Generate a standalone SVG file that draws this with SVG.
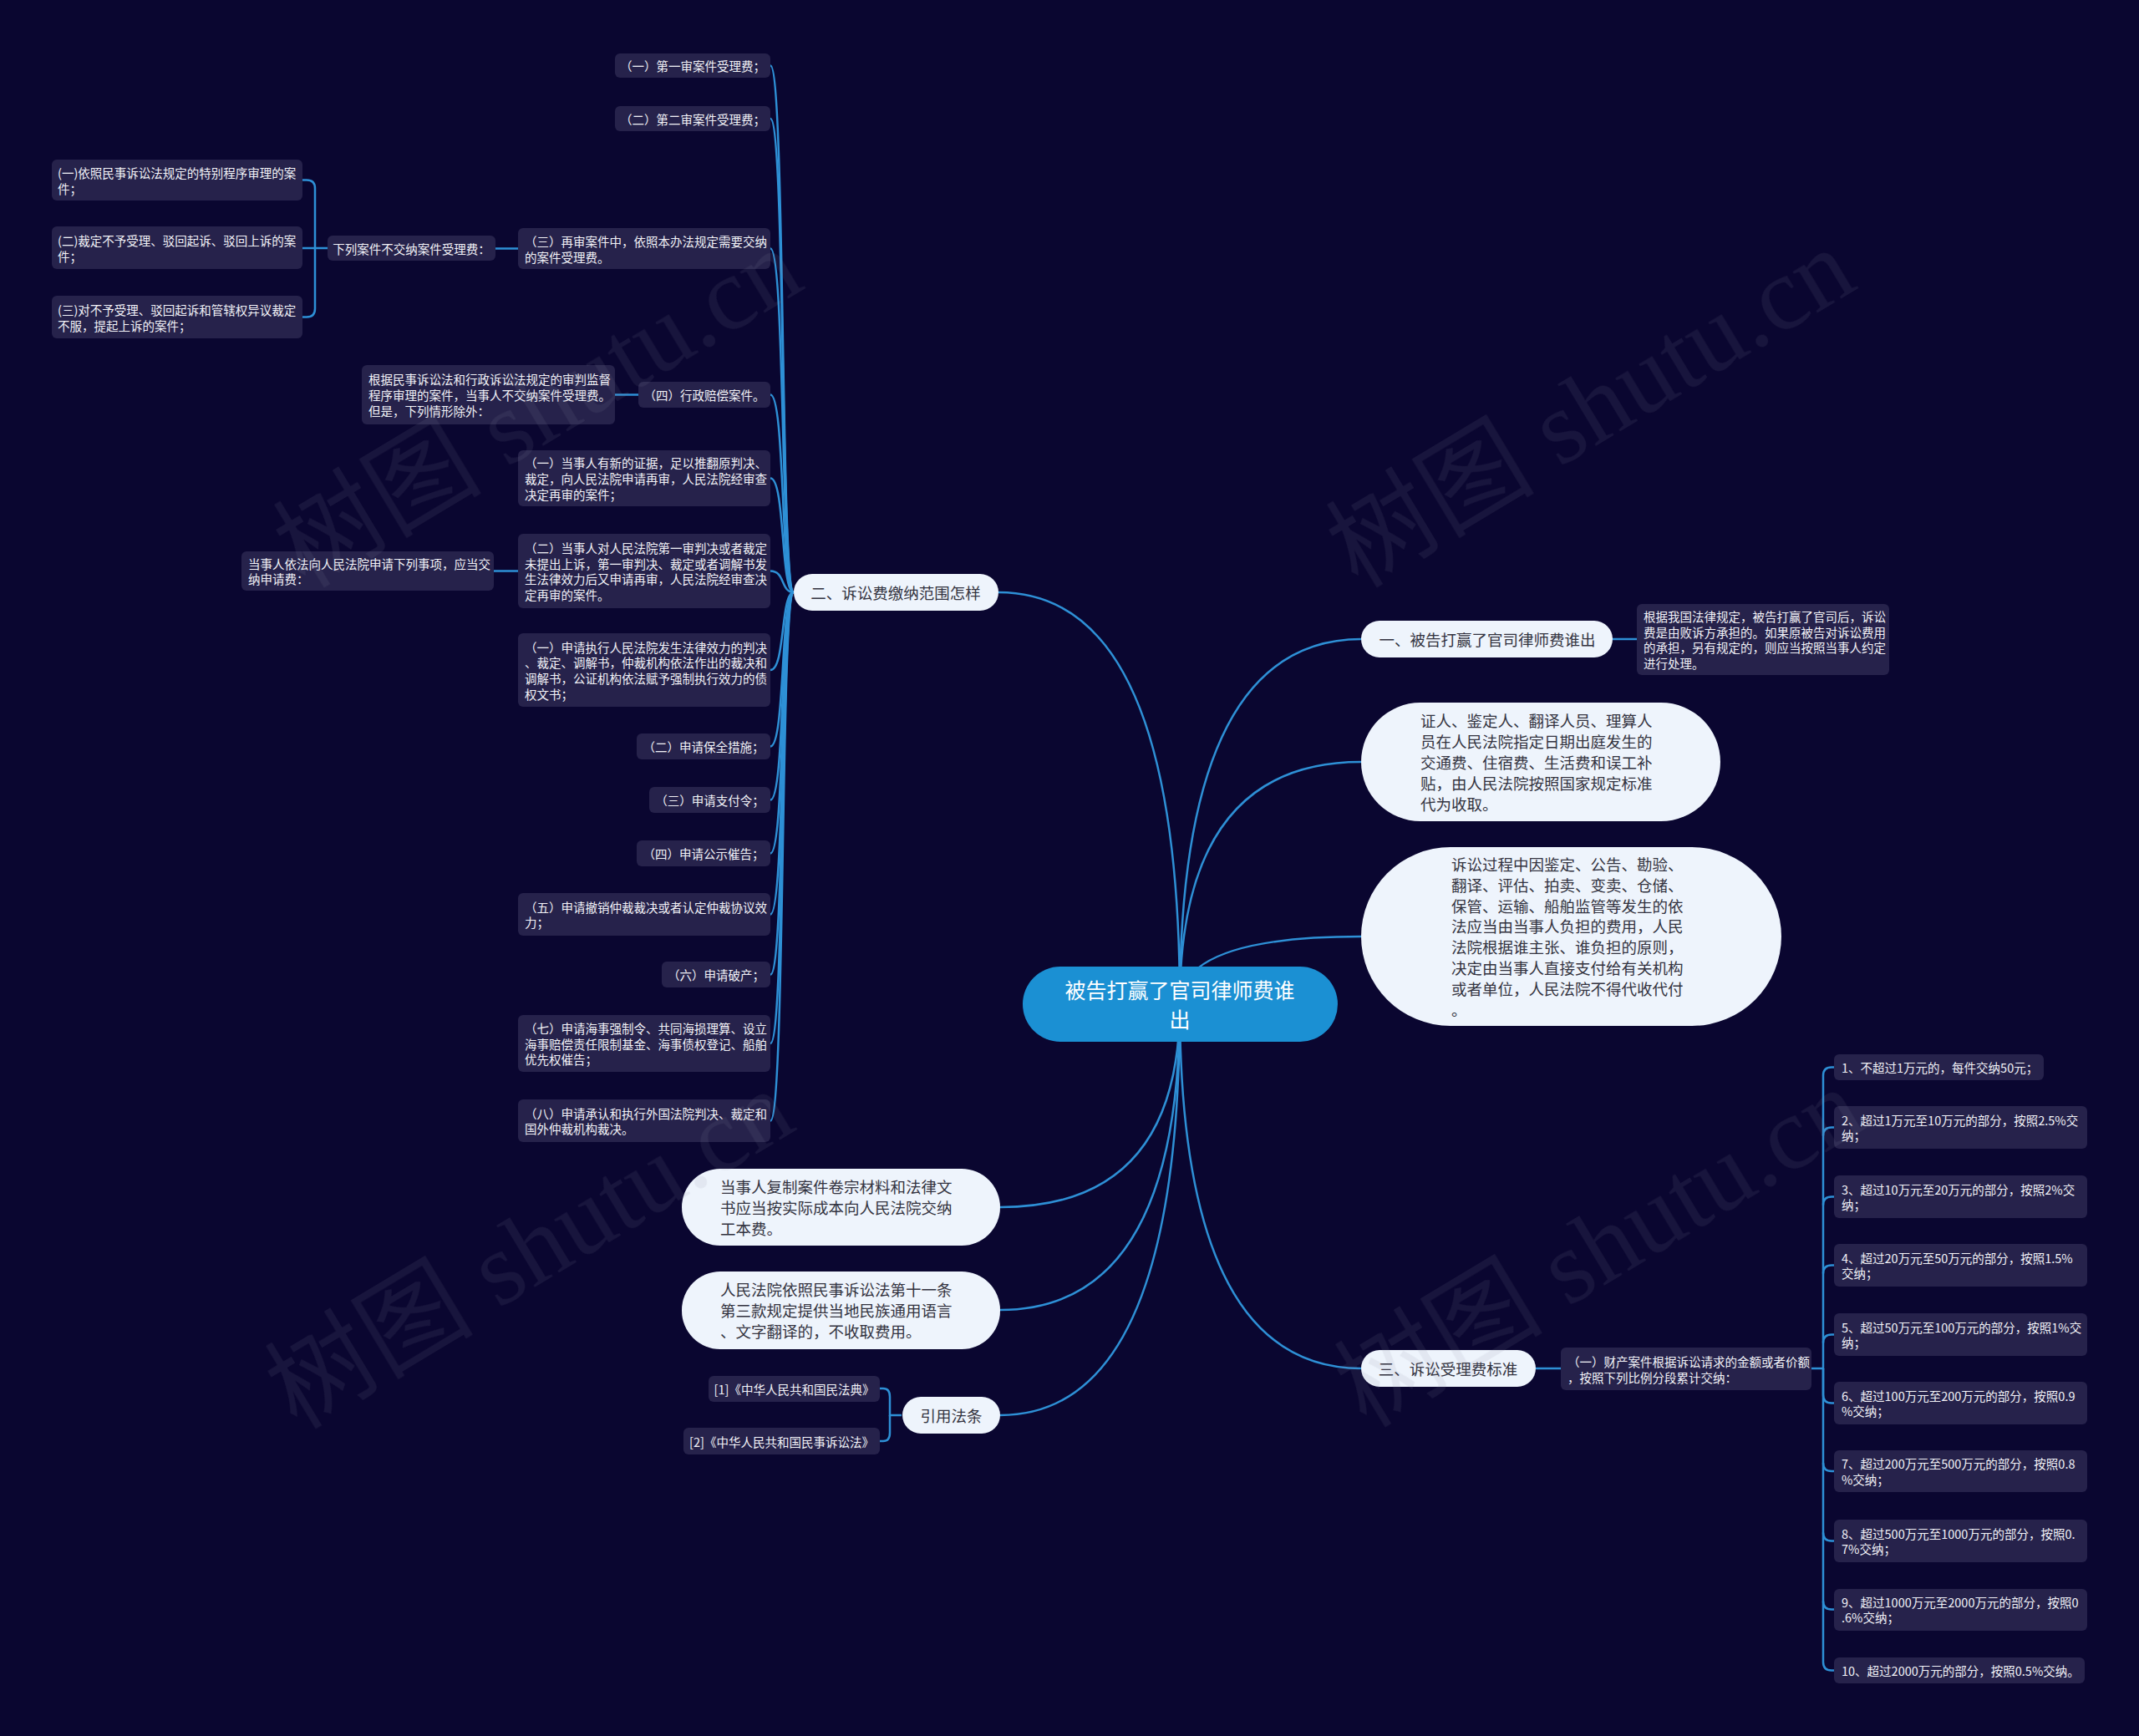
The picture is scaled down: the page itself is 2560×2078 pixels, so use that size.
<svg xmlns="http://www.w3.org/2000/svg" width="2560" height="2078" viewBox="0 0 2560 2078">
<style>
.dk{fill:#26224b}
.dt{fill:#f2f2f7;font-family:"Noto Sans CJK SC","Noto Sans",sans-serif;font-size:14.5px;dominant-baseline:central}
.dm{text-anchor:middle}
.wn{fill:#eef4fc}
.wt{fill:#333340;font-family:"Noto Sans CJK SC","Noto Sans",sans-serif;font-size:18.5px;dominant-baseline:central}
.ct{fill:#ffffff;font-family:"Noto Sans CJK SC","Noto Sans",sans-serif;font-size:25px;dominant-baseline:central;text-anchor:middle}
.ln{fill:none;stroke:#2e90d6;stroke-width:2.5}
.wm{fill:#8a8aa0;opacity:0.12;font-family:"Liberation Serif","Noto Sans CJK SC",serif;font-size:125px}
</style>
<rect x="0" y="0" width="2560" height="2078" fill="#0a0630"/>

<g id="connectors" class="ln">
<path d="M1412,1202 Q1412,709 1195,709"/>
<path d="M1412,1202 Q1412,765 1629,765"/>
<path d="M1412,1202 Q1412,912 1629,912"/>
<path d="M1412,1202 Q1412,1121 1629,1121"/>
<path d="M1412,1202 Q1412,1638 1629,1638"/>
<path d="M1412,1202 Q1412,1445 1197,1445"/>
<path d="M1412,1202 Q1412,1568 1197,1568"/>
<path d="M1412,1202 Q1412,1694 1197,1694"/>
<path d="M950,709 C934,709 940,78.5 922,78.5"/>
<path d="M950,709 C934,709 940,142 922,142"/>
<path d="M950,709 C934,709 940,297.5 922,297.5"/>
<path d="M950,709 C934,709 940,472.5 922,472.5"/>
<path d="M950,709 C934,709 940,572.5 922,572.5"/>
<path d="M950,709 C934,709 940,683.5 922,683.5"/>
<path d="M950,709 C934,709 940,802 922,802"/>
<path d="M950,709 C934,709 940,893.5 922,893.5"/>
<path d="M950,709 C934,709 940,957.5 922,957.5"/>
<path d="M950,709 C934,709 940,1021.5 922,1021.5"/>
<path d="M950,709 C934,709 940,1094.5 922,1094.5"/>
<path d="M950,709 C934,709 940,1166.5 922,1166.5"/>
<path d="M950,709 C934,709 940,1249 922,1249"/>
<path d="M950,709 C934,709 940,1341.5 922,1341.5"/>
<path d="M620,297.5 H593"/>
<path d="M764,472.5 H736"/>
<path d="M620,683.5 H591"/>
<path d="M1930,765 H1959"/>
<path d="M1838,1638 H1868"/>
<path d="M392,297 H377 V225.5 Q377,215.5 367,215.5 H362"/>
<path d="M377,297 H362"/>
<path d="M377,297 V369.5 Q377,379.5 367,379.5 H362"/>
<path d="M1079,1694 H1065 V1672 Q1065,1662 1057,1662 H1053"/>
<path d="M1065,1694 V1715 Q1065,1725 1057,1725 H1053"/>
<path d="M2168,1638 H2182 V1287.5 Q2182,1277.5 2192,1277.5 H2195"/>
<path d="M2182,1359.5 Q2182,1349.5 2192,1349.5 H2195"/>
<path d="M2182,1442.5 Q2182,1432.5 2192,1432.5 H2195"/>
<path d="M2182,1524.5 Q2182,1514.5 2192,1514.5 H2195"/>
<path d="M2182,1607.5 Q2182,1597.5 2192,1597.5 H2195"/>
<path d="M2182,1638 V1669.5 Q2182,1679.5 2192,1679.5 H2195"/>
<path d="M2182,1751 Q2182,1761 2192,1761 H2195"/>
<path d="M2182,1834.5 Q2182,1844.5 2192,1844.5 H2195"/>
<path d="M2182,1916.5 Q2182,1926.5 2192,1926.5 H2195"/>
<path d="M2182,1638 V1989.5 Q2182,1999.5 2192,1999.5 H2195"/>
</g>

<g id="center">
<rect x="1224" y="1157" width="377" height="90" rx="45" fill="#1b90d3"/>
<text class="ct" x="1412" y="1184">被告打赢了官司律师费谁</text>
<text class="ct" x="1412" y="1219">出</text>
</g>

<g id="t1">
<rect class="wn" x="1629" y="743" width="301" height="44" rx="22"/>
<text class="wt" x="1780" y="765" text-anchor="middle">一、被告打赢了官司律师费谁出</text>
</g>
<g id="t1c">
<rect class="dk" x="1959" y="723" width="302" height="85" rx="6"/>
<text class="dt" x="1967" y="737.5">根据我国法律规定，被告打赢了官司后，诉讼</text>
<text class="dt" x="1967" y="756.2">费是由败诉方承担的。如果原被告对诉讼费用</text>
<text class="dt" x="1967" y="774.9">的承担，另有规定的，则应当按照当事人约定</text>
<text class="dt" x="1967" y="793.6">进行处理。</text>
</g>
<g id="t2">
<rect class="wn" x="1629" y="841" width="430" height="142" rx="71"/>
<text class="wt" x="1700" y="862">证人、鉴定人、翻译人员、理算人</text>
<text class="wt" x="1700" y="887">员在人民法院指定日期出庭发生的</text>
<text class="wt" x="1700" y="912">交通费、住宿费、生活费和误工补</text>
<text class="wt" x="1700" y="937">贴，由人民法院按照国家规定标准</text>
<text class="wt" x="1700" y="962">代为收取。</text>
</g>
<g id="t3">
<rect class="wn" x="1629" y="1014" width="503" height="214" rx="107"/>
<text class="wt" x="1737" y="1034">诉讼过程中因鉴定、公告、勘验、</text>
<text class="wt" x="1737" y="1059">翻译、评估、拍卖、变卖、仓储、</text>
<text class="wt" x="1737" y="1084">保管、运输、船舶监管等发生的依</text>
<text class="wt" x="1737" y="1108">法应当由当事人负担的费用，人民</text>
<text class="wt" x="1737" y="1133">法院根据谁主张、谁负担的原则，</text>
<text class="wt" x="1737" y="1158">决定由当事人直接支付给有关机构</text>
<text class="wt" x="1737" y="1183">或者单位，人民法院不得代收代付</text>
<text class="wt" x="1737" y="1208">。</text>
</g>
<g id="t4">
<rect class="wn" x="1629" y="1616" width="209" height="44" rx="22"/>
<text class="wt" x="1733" y="1638" text-anchor="middle">三、诉讼受理费标准</text>
</g>
<g id="t4c">
<rect class="dk" x="1868" y="1613" width="300" height="51" rx="6"/>
<text class="dt" x="1876" y="1629">（一）财产案件根据诉讼请求的金额或者价额</text>
<text class="dt" x="1876" y="1648">，按照下列比例分段累计交纳：</text>
</g>
<g id="f1"><rect class="dk" x="2195" y="1262" width="251" height="31" rx="6"/>
<text class="dt" x="2204" y="1277.5">1、不超过1万元的，每件交纳50元；</text></g>
<g id="f2"><rect class="dk" x="2195" y="1324" width="303" height="51" rx="6"/>
<text class="dt" x="2204" y="1340.2">2、超过1万元至10万元的部分，按照2.5%交</text>
<text class="dt" x="2204" y="1358.8">纳；</text></g>
<g id="f3"><rect class="dk" x="2195" y="1407" width="303" height="51" rx="6"/>
<text class="dt" x="2204" y="1423.2">3、超过10万元至20万元的部分，按照2%交</text>
<text class="dt" x="2204" y="1441.8">纳；</text></g>
<g id="f4"><rect class="dk" x="2195" y="1489" width="303" height="51" rx="6"/>
<text class="dt" x="2204" y="1505.2">4、超过20万元至50万元的部分，按照1.5%</text>
<text class="dt" x="2204" y="1523.8">交纳；</text></g>
<g id="f5"><rect class="dk" x="2195" y="1572" width="303" height="51" rx="6"/>
<text class="dt" x="2204" y="1588.2">5、超过50万元至100万元的部分，按照1%交</text>
<text class="dt" x="2204" y="1606.8">纳；</text></g>
<g id="f6"><rect class="dk" x="2195" y="1654" width="303" height="51" rx="6"/>
<text class="dt" x="2204" y="1670.2">6、超过100万元至200万元的部分，按照0.9</text>
<text class="dt" x="2204" y="1688.8">%交纳；</text></g>
<g id="f7"><rect class="dk" x="2195" y="1736" width="303" height="50" rx="6"/>
<text class="dt" x="2204" y="1751.7">7、超过200万元至500万元的部分，按照0.8</text>
<text class="dt" x="2204" y="1770.3">%交纳；</text></g>
<g id="f8"><rect class="dk" x="2195" y="1819" width="303" height="51" rx="6"/>
<text class="dt" x="2204" y="1835.2">8、超过500万元至1000万元的部分，按照0.</text>
<text class="dt" x="2204" y="1853.8">7%交纳；</text></g>
<g id="f9"><rect class="dk" x="2195" y="1902" width="303" height="50" rx="6"/>
<text class="dt" x="2204" y="1917.2">9、超过1000万元至2000万元的部分，按照0</text>
<text class="dt" x="2204" y="1935.8">.6%交纳；</text></g>
<g id="f10"><rect class="dk" x="2195" y="1984" width="300" height="31" rx="6"/>
<text class="dt" x="2204" y="1999.5">10、超过2000万元的部分，按照0.5%交纳。</text></g>

<g id="t5">
<rect class="wn" x="950" y="687" width="245" height="44" rx="22"/>
<text class="wt" x="1072" y="709" text-anchor="middle">二、诉讼费缴纳范围怎样</text>
</g>
<g id="a"><rect class="dk" x="736" y="64" width="186" height="29" rx="6"/>
<text class="dt dm" x="829" y="78.5">（一）第一审案件受理费；</text></g>
<g id="b"><rect class="dk" x="736" y="127" width="186" height="30" rx="6"/>
<text class="dt dm" x="829" y="142">（二）第二审案件受理费；</text></g>
<g id="c"><rect class="dk" x="620" y="273" width="302" height="49" rx="6"/>
<text class="dt" x="628" y="288.5">（三）再审案件中，依照本办法规定需要交纳</text>
<text class="dt" x="628" y="307">的案件受理费。</text></g>
<g id="c1"><rect class="dk" x="392" y="282" width="201" height="30" rx="6"/>
<text class="dt dm" x="492.5" y="297">下列案件不交纳案件受理费：</text></g>
<g id="c1a"><rect class="dk" x="62" y="191" width="300" height="49" rx="6"/>
<text class="dt" x="69" y="206.5">(一)依照民事诉讼法规定的特别程序审理的案</text>
<text class="dt" x="69" y="225">件；</text></g>
<g id="c1b"><rect class="dk" x="62" y="271" width="300" height="51" rx="6"/>
<text class="dt" x="69" y="287.5">(二)裁定不予受理、驳回起诉、驳回上诉的案</text>
<text class="dt" x="69" y="306">件；</text></g>
<g id="c1c"><rect class="dk" x="62" y="354" width="300" height="51" rx="6"/>
<text class="dt" x="69" y="370.5">(三)对不予受理、驳回起诉和管辖权异议裁定</text>
<text class="dt" x="69" y="389">不服，提起上诉的案件；</text></g>
<g id="d"><rect class="dk" x="764" y="457" width="158" height="31" rx="6"/>
<text class="dt dm" x="843" y="472.5">（四）行政赔偿案件。</text></g>
<g id="d1"><rect class="dk" x="433" y="437" width="303" height="71" rx="6"/>
<text class="dt" x="441" y="453.8">根据民事诉讼法和行政诉讼法规定的审判监督</text>
<text class="dt" x="441" y="472.5">程序审理的案件，当事人不交纳案件受理费。</text>
<text class="dt" x="441" y="491.2">但是，下列情形除外：</text></g>
<g id="e"><rect class="dk" x="620" y="539" width="302" height="67" rx="6"/>
<text class="dt" x="628" y="553.8">（一）当事人有新的证据，足以推翻原判决、</text>
<text class="dt" x="628" y="572.5">裁定，向人民法院申请再审，人民法院经审查</text>
<text class="dt" x="628" y="591.2">决定再审的案件；</text></g>
<g id="f"><rect class="dk" x="620" y="639" width="302" height="89" rx="6"/>
<text class="dt" x="628" y="655.4">（二）当事人对人民法院第一审判决或者裁定</text>
<text class="dt" x="628" y="674.2">未提出上诉，第一审判决、裁定或者调解书发</text>
<text class="dt" x="628" y="692.8">生法律效力后又申请再审，人民法院经审查决</text>
<text class="dt" x="628" y="711.6">定再审的案件。</text></g>
<g id="f1c"><rect class="dk" x="289" y="660" width="302" height="47" rx="6"/>
<text class="dt" x="297" y="674.2">当事人依法向人民法院申请下列事项，应当交</text>
<text class="dt" x="297" y="692.8">纳申请费：</text></g>
<g id="g"><rect class="dk" x="620" y="758" width="302" height="88" rx="6"/>
<text class="dt" x="628" y="774">（一）申请执行人民法院发生法律效力的判决</text>
<text class="dt" x="628" y="792.7">、裁定、调解书，仲裁机构依法作出的裁决和</text>
<text class="dt" x="628" y="811.3">调解书，公证机构依法赋予强制执行效力的债</text>
<text class="dt" x="628" y="830">权文书；</text></g>
<g id="h"><rect class="dk" x="762" y="878" width="160" height="31" rx="6"/>
<text class="dt dm" x="842" y="893.5">（二）申请保全措施；</text></g>
<g id="i"><rect class="dk" x="777" y="942" width="145" height="31" rx="6"/>
<text class="dt dm" x="849.5" y="957.5">（三）申请支付令；</text></g>
<g id="j"><rect class="dk" x="762" y="1006" width="160" height="31" rx="6"/>
<text class="dt dm" x="842" y="1021.5">（四）申请公示催告；</text></g>
<g id="k"><rect class="dk" x="620" y="1069" width="302" height="51" rx="6"/>
<text class="dt" x="628" y="1085.2">（五）申请撤销仲裁裁决或者认定仲裁协议效</text>
<text class="dt" x="628" y="1103.8">力；</text></g>
<g id="l"><rect class="dk" x="792" y="1151" width="130" height="31" rx="6"/>
<text class="dt dm" x="857" y="1166.5">（六）申请破产；</text></g>
<g id="m"><rect class="dk" x="620" y="1215" width="302" height="68" rx="6"/>
<text class="dt" x="628" y="1230.3">（七）申请海事强制令、共同海损理算、设立</text>
<text class="dt" x="628" y="1249">海事赔偿责任限制基金、海事债权登记、船舶</text>
<text class="dt" x="628" y="1267.7">优先权催告；</text></g>
<g id="n"><rect class="dk" x="620" y="1316" width="302" height="51" rx="6"/>
<text class="dt" x="628" y="1332.2">（八）申请承认和执行外国法院判决、裁定和</text>
<text class="dt" x="628" y="1350.8">国外仲裁机构裁决。</text></g>

<g id="t6">
<rect class="wn" x="816" y="1399" width="381" height="92" rx="46"/>
<text class="wt" x="862" y="1420">当事人复制案件卷宗材料和法律文</text>
<text class="wt" x="862" y="1445">书应当按实际成本向人民法院交纳</text>
<text class="wt" x="862" y="1470">工本费。</text>
</g>
<g id="t7">
<rect class="wn" x="816" y="1522" width="381" height="93" rx="46"/>
<text class="wt" x="862" y="1543">人民法院依照民事诉讼法第十一条</text>
<text class="wt" x="862" y="1568">第三款规定提供当地民族通用语言</text>
<text class="wt" x="862" y="1593">、文字翻译的，不收取费用。</text>
</g>
<g id="t8">
<rect class="wn" x="1080" y="1672" width="117" height="44" rx="22"/>
<text class="wt" x="1138.5" y="1694" text-anchor="middle">引用法条</text>
</g>
<g id="r1"><rect class="dk" x="848" y="1647" width="205" height="31" rx="6"/>
<text class="dt dm" x="950.5" y="1662.5">[1]《中华人民共和国民法典》</text></g>
<g id="r2"><rect class="dk" x="818" y="1709" width="235" height="32" rx="6"/>
<text class="dt dm" x="935.5" y="1725">[2]《中华人民共和国民事诉讼法》</text></g>

<g id="watermark" class="wm">
<text transform="translate(365,705) rotate(-31)">树图 shutu.cn</text>
<text transform="translate(1625,705) rotate(-31)">树图 shutu.cn</text>
<text transform="translate(355,1712) rotate(-31)">树图 shutu.cn</text>
<text transform="translate(1635,1710) rotate(-31)">树图 shutu.cn</text>
</g>
</svg>
